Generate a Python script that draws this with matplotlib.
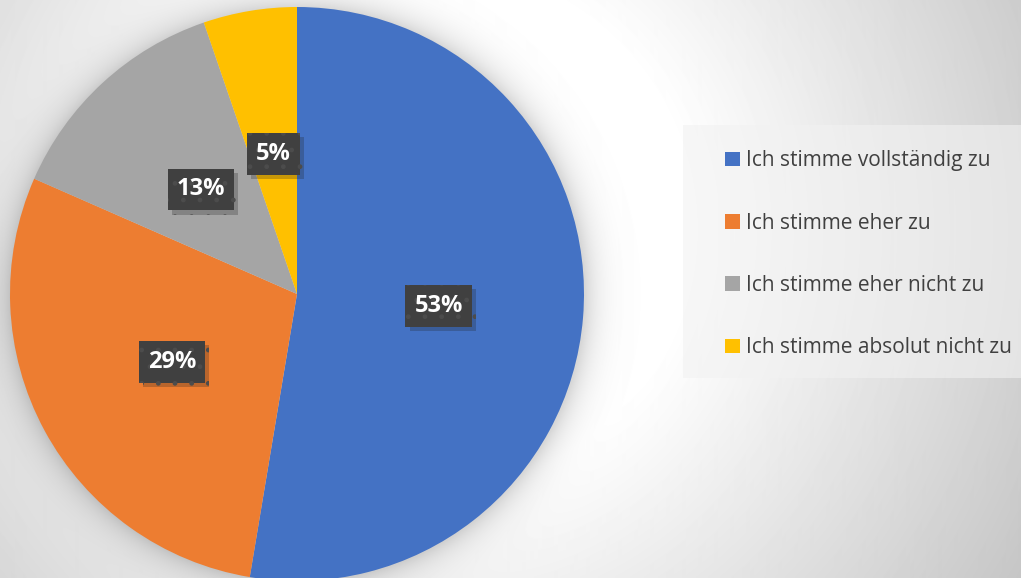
import numpy as np
import matplotlib.pyplot as plt
import matplotlib.patheffects as pe
from matplotlib.patches import Rectangle

labels = ["Ich stimme vollständig zu", "Ich stimme eher zu",
          "Ich stimme eher nicht zu", "Ich stimme absolut nicht zu"]
counts = [20, 11, 5, 2]
colors = ["#4472C4", "#ED7D31", "#A5A5A5", "#FFC000"]

W, H = 1021, 578
fig = plt.figure(figsize=(W / 100, H / 100), dpi=100)

# background: soft grey gradient plus the glow-like shadow of the pie
yy, xx = np.mgrid[0:H, 0:W].astype(float)
r_bg = np.hypot(xx - 430, yy - 230)
val = 255 - 0.135 * np.clip(r_bg - 260, 0, None)
r_pie = np.hypot(xx - 297, yy - 294)
val -= 40 * np.exp(-np.clip(r_pie - 287, 0, None) / 15)
img = np.clip(val, 0, 255) / 255
bg = fig.add_axes([0, 0, 1, 1])
bg.imshow(img, cmap="gray", vmin=0, vmax=1, aspect="auto", interpolation="bilinear")
bg.axis("off")

# legend panel
fig.patches.append(Rectangle((683 / W, 1 - 378 / H), (W - 683) / W, 253 / H,
                             transform=fig.transFigure, facecolor="#f2f2f2",
                             alpha=0.6, edgecolor="none", zorder=1))

ax = fig.add_axes([10 / W, -3 / H, 574 / W, 574 / H])
wedges, texts, autotexts = ax.pie(counts, colors=colors, startangle=90,
                                  counterclock=False, radius=1,
                                  autopct="%.0f%%", pctdistance=0.495,
                                  wedgeprops=dict(linewidth=0))
ax.set_xlim(-1, 1)
ax.set_ylim(-1, 1)
ax.axis("off")

for t in autotexts:
    t.set_fontfamily("Open Sans")
    t.set_fontweight("bold")
    t.set_fontsize(17)
    t.set_color("white")
    t.set_bbox(dict(boxstyle="square,pad=0.38", facecolor="#404040",
                    edgecolor="#4c4c4c", linewidth=0, hatch="."))
    t.get_bbox_patch().set_path_effects(
        [pe.SimplePatchShadow(offset=(3, -3), shadow_rgbFace="#202020", alpha=0.25),
         pe.Normal()])

leg = fig.legend(wedges, labels, loc="upper left",
                 bbox_to_anchor=(715 / W, 1 - 140 / H), frameon=False,
                 borderpad=0, handlelength=0.7, handleheight=0.7,
                 handletextpad=0.3, labelspacing=1.98,
                 prop=dict(family="Open Sans", size=15))
for txt in leg.get_texts():
    txt.set_color("#404040")

fig.savefig("out.png", dpi=100)
